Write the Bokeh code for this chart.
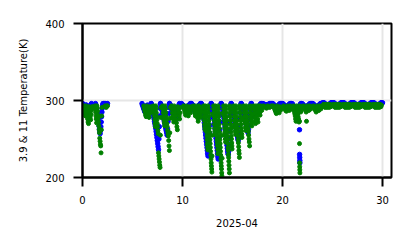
import numpy as np
from bokeh.plotting import figure
from bokeh.models import ColumnDataSource, FixedTicker, Range1d
from bokeh.embed import file_html
from bokeh.resources import INLINE

# ---- data (day of April 2025, brightness temperature in K) ----
# 11 um observation windows (one per cold event / day)
start11 = [0.12, 1.25, 2.25, 6.12, 7.10, 8.00, 8.90, 10.10, 11.10, 12.10, 13.10,
           14.10, 15.10, 16.10, 17.10, 18.10, 19.10, 20.10, 21.10, 22.10, 23.10,
           24.10, 25.10, 26.10, 27.10, 28.10, 29.10]
end11 = [0.95, 1.95, 2.50, 6.95, 7.85, 8.80, 9.80, 10.90, 11.90, 13.00, 14.00,
         15.00, 16.00, 17.00, 18.00, 18.90, 19.90, 20.90, 21.90, 22.90, 23.90,
         24.90, 25.90, 26.90, 27.90, 28.90, 29.90]

# 3.9 um observation windows
start39 = [0.02, 1.30, 2.10, 5.95, 6.88, 7.80, 8.70, 9.90, 10.90, 11.88, 12.88,
           13.88, 14.88, 15.88, 16.90, 17.95, 18.95, 19.95, 20.95, 21.95, 22.95,
           24.00, 25.00, 26.00, 27.00, 28.00, 29.00]
end39 = [0.90, 2.05, 2.50, 6.85, 7.80, 8.70, 9.70, 10.85, 11.85, 12.85, 13.85,
         14.85, 15.85, 16.85, 17.90, 18.90, 19.90, 20.90, 21.90, 22.90, 23.95,
         25.00, 26.00, 27.00, 28.00, 29.00, 30.00]

# 11 um brightness temperature samples inside each window
tb11 = [
    [293, 290, 286, 283, 280, 293, 289, 285, 280, 276, 272, 270, 292, 288, 284, 279, 275, 282, 288, 292],
    [293, 289, 285, 280, 276, 271, 293, 290, 286, 281, 277, 272, 267, 262, 258, 251, 247, 243, 241, 232, 262, 280, 291],
    [293, 292, 291, 293, 293],
    [293, 290, 287, 284, 281, 279, 293, 290, 287, 284, 280, 278, 292, 289, 286, 284, 289, 292],
    [293, 289, 285, 280, 275, 270, 266, 293, 289, 284, 279, 275, 270, 266, 261, 257, 232, 228, 224, 220, 216, 213, 255, 278, 291],
    [293, 289, 284, 279, 275, 271, 267, 293, 289, 284, 279, 275, 270, 266, 261, 257, 254, 248, 241, 235, 258, 277, 291],
    [293, 289, 284, 280, 276, 272, 293, 289, 284, 280, 275, 271, 266, 262, 292, 288, 284, 280, 276, 284, 291],
    [293, 290, 287, 284, 281, 293, 290, 287, 284, 280, 292, 289, 286, 284, 289, 292],
    [293, 290, 287, 283, 280, 293, 289, 285, 281, 277, 273, 293, 289, 285, 282, 278, 286, 291],
    [293, 289, 284, 279, 274, 269, 265, 262, 293, 289, 284, 279, 274, 269, 264, 259, 254, 249, 244, 240, 236,
     293, 289, 284, 279, 274, 269, 264, 259, 254, 249, 244, 239, 234, 229, 224, 219, 215, 211, 207, 228, 255, 282],
    [293, 289, 284, 279, 274, 269, 264, 260, 256, 293, 289, 284, 279, 274, 269, 264, 259, 254, 249, 245, 241, 236, 231,
     293, 289, 284, 279, 274, 269, 264, 259, 254, 249, 244, 239, 234, 229, 224, 219, 215, 211, 206, 202, 225, 255, 283],
    [293, 289, 284, 279, 274, 269, 264, 259, 255, 250, 246, 293, 289, 284, 279, 274, 269, 264, 259, 254, 249, 244, 239,
     235, 230, 226, 221, 216, 211, 206, 293, 289, 284, 279, 274, 269, 264, 259, 254, 250, 245, 241, 237, 265, 289],
    [293, 289, 284, 279, 274, 269, 265, 260, 256, 293, 289, 284, 279, 274, 269, 264, 259, 254, 249, 245, 240, 235, 231,
     226, 293, 289, 284, 279, 274, 269, 264, 260, 256, 252, 275, 291],
    [293, 289, 284, 279, 274, 270, 265, 261, 293, 289, 284, 279, 274, 269, 264, 260, 255, 250, 246, 241,
     293, 289, 284, 279, 275, 271, 267, 282, 292],
    [293, 288, 283, 278, 273, 270, 293, 289, 285, 281, 276, 272, 293, 290, 287, 284, 281, 293, 291, 289, 287, 292, 292],
    [293, 292, 291, 290, 293, 292, 291, 292, 293],
    [293, 291, 289, 287, 285, 283, 293, 291, 288, 286, 284, 292, 290, 288, 291],
    [293, 291, 289, 287, 286, 293, 291, 289, 287, 293, 291, 289],
    [293, 290, 286, 283, 280, 276, 273, 293, 290, 286, 283, 279, 276, 272, 293, 290, 287, 285, 289, 292],
    [293, 291, 289, 287, 285, 293, 291, 289, 287, 293, 291, 289, 292],
    [293, 291, 289, 287, 285, 293, 291, 289, 287, 293, 291, 289, 292],
    [295, 294, 292, 291, 295, 294, 292, 291, 295, 294, 292, 291, 295, 294, 292, 294],
    [295, 294, 292, 291, 295, 294, 292, 291, 295, 294, 292, 291, 295, 294, 292, 294],
    [295, 294, 292, 291, 295, 294, 292, 291, 295, 294, 292, 291, 295, 294, 292, 294],
    [295, 294, 292, 291, 295, 294, 292, 291, 295, 294, 292, 291, 295, 294, 292, 294],
    [295, 294, 292, 291, 295, 294, 292, 291, 295, 294, 292, 291, 295, 294, 292, 294],
    [295, 294, 292, 291, 295, 294, 292, 291, 295, 294, 292, 291, 295, 294, 292, 294],
]

# 3.9 um brightness temperature samples inside each window
tb39 = [
    [296, 295, 294, 292, 290, 291, 293, 294, 294, 293, 291, 289, 287, 285, 284, 287, 290, 293, 295, 296],
    [296, 294, 292, 290, 287, 284, 281, 278, 275, 271, 267, 263, 260, 257, 261, 266, 272, 279, 285, 290, 294, 296],
    [296, 296, 296, 296, 295, 296],
    [296, 294, 292, 290, 288, 286, 285, 287, 290, 292, 294, 293, 291, 289, 290, 292, 294, 296],
    [296, 294, 291, 288, 285, 282, 279, 276, 273, 270, 267, 264, 260, 256, 252, 248, 244, 240, 236, 250, 266, 280, 290, 296],
    [296, 294, 291, 288, 285, 282, 279, 276, 273, 270, 267, 264, 261, 258, 255, 263, 273, 283, 291, 296],
    [296, 295, 293, 291, 289, 287, 285, 283, 281, 279, 277, 275, 274, 277, 280, 284, 288, 292, 294, 296],
    [296, 295, 294, 293, 292, 291, 290, 289, 288, 289, 291, 293, 294, 295, 296, 296],
    [296, 295, 294, 292, 290, 288, 286, 284, 283, 282, 284, 287, 290, 292, 294, 295, 296, 296],
    [296, 295, 293, 291, 289, 286, 283, 279, 275, 271, 267, 263, 259, 255, 251, 247, 243, 239, 235, 231, 228, 232, 239, 248, 258, 268, 278, 287, 293, 296],
    [296, 295, 293, 291, 289, 287, 284, 281, 278, 275, 271, 267, 263, 259, 255, 251, 247, 243, 239, 235, 231, 227, 224, 228, 234, 242, 252, 262, 272, 282, 291, 296],
    [296, 295, 293, 291, 289, 286, 283, 280, 277, 274, 270, 266, 262, 258, 254, 250, 246, 242, 238, 234, 231, 230, 234, 241, 250, 260, 271, 281, 290, 296],
    [296, 295, 293, 291, 289, 286, 283, 280, 277, 274, 271, 268, 265, 262, 259, 256, 253, 250, 248, 252, 259, 267, 276, 284, 291, 296],
    [296, 295, 293, 291, 289, 287, 285, 283, 280, 277, 274, 271, 268, 265, 262, 260, 258, 262, 268, 275, 282, 288, 293, 296],
    [296, 291, 287, 283, 280, 279, 281, 283, 285, 287, 289, 291, 292, 293, 294, 295, 296, 296],
    [296, 296, 295, 295, 294, 294, 294, 295, 295, 296, 296, 296],
    [296, 296, 295, 294, 293, 292, 291, 290, 292, 294, 295, 296, 296, 296],
    [296, 296, 295, 294, 293, 292, 291, 292, 293, 294, 295, 296, 296, 296],
    [296, 295, 293, 291, 289, 287, 285, 283, 282, 284, 287, 290, 293, 295, 296, 296],
    [296, 295, 294, 293, 292, 291, 290, 292, 293, 294, 295, 296, 296, 296],
    [296, 296, 295, 294, 293, 292, 291, 292, 293, 294, 295, 296, 296, 296],
    [297, 297, 297, 296, 295, 294, 293, 293, 294, 295, 296, 297, 297, 297],
    [297, 297, 297, 296, 295, 294, 293, 293, 294, 295, 296, 297, 297, 297],
    [297, 297, 297, 296, 295, 294, 293, 293, 294, 295, 296, 297, 297, 297],
    [297, 297, 297, 296, 295, 294, 293, 293, 294, 295, 296, 297, 297, 297],
    [297, 297, 297, 296, 295, 294, 293, 293, 294, 295, 296, 297, 297, 297],
    [297, 297, 297, 296, 295, 294, 293, 293, 294, 295, 296, 297, 297, 297],
]

# isolated observations
extra_t11 = [21.70, 21.70, 21.71, 21.72, 21.73, 21.74, 22.40]
extra_k11 = [273, 244, 219, 214, 210, 206, 273]
extra_t39 = [21.70, 21.71, 21.72, 21.73, 21.74]
extra_k39 = [262, 230, 226, 222, 219]

x_ticks = [0, 10, 20, 30]
y_ticks = [200, 300, 400]


def series(starts, ends, values, extra_t, extra_k):
    t, k = [], []
    for s, e, v in zip(starts, ends, values):
        t.extend(np.linspace(s, e, len(v)))
        k.extend(v)
    t.extend(extra_t)
    k.extend(extra_k)
    return ColumnDataSource(dict(t=t, k=k))


src39 = series(start39, end39, tb39, extra_t39, extra_k39)
src11 = series(start11, end11, tb11, extra_t11, extra_k11)

p = figure(width=411, height=248, x_range=Range1d(0, 30.9), y_range=Range1d(200, 400),
           output_backend="svg", toolbar_location=None,
           min_border_left=82, min_border_right=20, min_border_top=23, min_border_bottom=71)

p.scatter("t", "k", source=src39, size=4.5, color="blue")
p.scatter("t", "k", source=src11, size=4, color="green")

p.xaxis.ticker = FixedTicker(ticks=x_ticks)
p.yaxis.ticker = FixedTicker(ticks=y_ticks)
p.xaxis.axis_label = "2025-04"
p.yaxis.axis_label = "3.9 & 11 Temperature(K)"

for ax in (p.xaxis[0], p.yaxis[0]):
    ax.axis_label_text_font = "DejaVu Sans"
    ax.axis_label_text_font_size = "10px"
    ax.axis_label_text_font_style = "normal"
    ax.axis_label_text_color = "black"
    ax.major_label_text_font = "DejaVu Sans"
    ax.major_label_text_font_size = "10px"
    ax.major_label_text_color = "black"
    ax.axis_line_color = "black"
    ax.axis_line_width = 2
    ax.major_tick_line_color = "black"
    ax.major_tick_line_width = 2
    ax.major_tick_out = 9
    ax.major_tick_in = 0
    ax.minor_tick_line_color = None

p.xaxis.major_label_standoff = 9
p.yaxis.major_label_standoff = 9
p.xaxis.axis_label_standoff = 12
p.yaxis.axis_label_standoff = 13

p.xgrid.grid_line_color = "#e6e6e6"
p.ygrid.grid_line_color = "#e6e6e6"
p.xgrid.grid_line_width = 2
p.ygrid.grid_line_width = 2

p.outline_line_color = "black"
p.outline_line_width = 2
p.outline_line_alpha = 1
p.background_fill_color = "white"
p.border_fill_color = "white"

open("out.html", "w").write(file_html(p, INLINE))
